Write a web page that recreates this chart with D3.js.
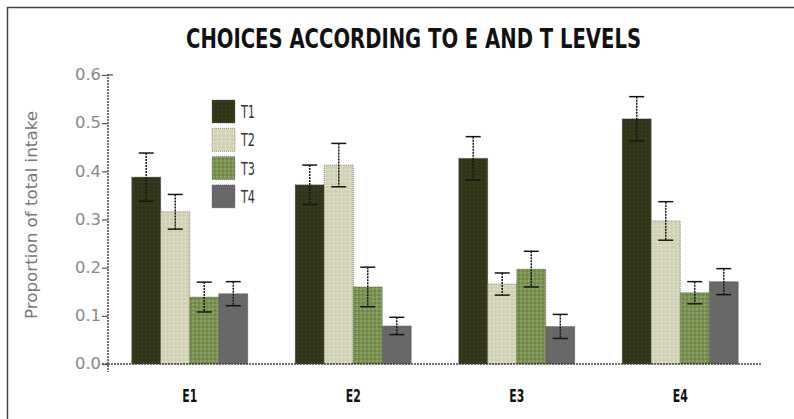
<!DOCTYPE html>
<html>
<head>
<meta charset="utf-8">
<script src="https://cdn.jsdelivr.net/npm/d3@7"></script>
<style>
  html, body { margin: 0; padding: 0; background: #fff; }
  svg { display: block; }
</style>
</head>
<body>
<svg id="chart" width="794" height="419"></svg>
<script>
// Categories, series and values
const groups = ["E1", "E2", "E3", "E4"];
const series = ["T1", "T2", "T3", "T4"];
const T1 = [0.388, 0.372, 0.427, 0.509];
const T2 = [0.316, 0.413, 0.166, 0.297];
const T3 = [0.139, 0.160, 0.197, 0.148];
const T4 = [0.146, 0.079, 0.078, 0.171];
const T1err = [0.050, 0.041, 0.045, 0.046];
const T2err = [0.036, 0.045, 0.023, 0.040];
const T3err = [0.031, 0.041, 0.037, 0.023];
const T4err = [0.025, 0.018, 0.025, 0.027];
const yTicks = [0.0, 0.1, 0.2, 0.3, 0.4, 0.5, 0.6];

const values = [T1, T2, T3, T4];
const errors = [T1err, T2err, T3err, T4err];
const rows = [];
groups.forEach((g, gi) => series.forEach((s, si) => {
  rows.push({ group: g, series: s, value: values[si][gi], err: errors[si][gi] });
}));

const svg = d3.select("#chart");
const defs = svg.append("defs");

// Fill patterns for the four series
function dotPattern(id, bg, dot, size, r) {
  const p = defs.append("pattern").attr("id", id)
    .attr("patternUnits", "userSpaceOnUse").attr("width", size).attr("height", size);
  p.append("rect").attr("width", size).attr("height", size).attr("fill", bg);
  p.append("rect").attr("x", 1).attr("y", 1).attr("width", r).attr("height", r).attr("fill", dot);
}
dotPattern("pT1", "#35341b", "#1f5a22", 4, 1.2);
dotPattern("pT2", "#d2d0b6", "#e8f8d2", 4, 1.3);
{
  const p = defs.append("pattern").attr("id", "pT3")
    .attr("patternUnits", "userSpaceOnUse").attr("width", 4).attr("height", 4);
  p.append("rect").attr("width", 4).attr("height", 4).attr("fill", "#7b9352");
  p.append("rect").attr("x", 0).attr("y", 0).attr("width", 2).attr("height", 2).attr("fill", "#8aa062");
  p.append("rect").attr("x", 2).attr("y", 2).attr("width", 2).attr("height", 2).attr("fill", "#6d8548");
}
dotPattern("pT4", "#686868", "#666666", 4, 1);

const fills = d3.scaleOrdinal().domain(series).range(["url(#pT1)", "url(#pT2)", "url(#pT3)", "url(#pT4)"]);

// Frame lines
svg.append("line").attr("x1", 7).attr("x2", 794).attr("y1", 7.5).attr("y2", 7.5)
  .attr("stroke", "#444").attr("stroke-width", 1.5);
svg.append("line").attr("x1", 7.5).attr("x2", 7.5).attr("y1", 7).attr("y2", 419)
  .attr("stroke", "#444").attr("stroke-width", 1.5);

// Title
svg.append("text")
  .attr("x", 413.5).attr("y", 48)
  .attr("text-anchor", "middle")
  .attr("font-family", "'DejaVu Sans Condensed', 'Liberation Sans Narrow', sans-serif")
  .attr("font-weight", "bold")
  .attr("font-size", 26)
  .attr("textLength", 455).attr("lengthAdjust", "spacingAndGlyphs")
  .attr("fill", "#111")
  .text("CHOICES ACCORDING TO E AND T LEVELS");

// Scales
const x0 = d3.scaleBand().domain(groups).range([108, 762]).paddingInner(0.29).paddingOuter(0.145);
const x1 = d3.scaleBand().domain(series).range([0, x0.bandwidth()]).padding(0);
const y = d3.scaleLinear().domain([0, 0.6]).range([364, 75]);

// Bars
const bars = svg.append("g");
bars.selectAll("rect").data(rows).join("rect")
  .attr("x", d => x0(d.group) + x1(d.series))
  .attr("y", d => y(d.value))
  .attr("width", x1.bandwidth())
  .attr("height", d => y(0) - y(d.value))
  .attr("fill", d => fills(d.series))
  .attr("stroke", "#444").attr("stroke-width", 0.6).attr("stroke-dasharray", "1,1");

// Error bars
const eb = svg.append("g").attr("stroke", "#151515").attr("stroke-width", 1.5);
rows.forEach(d => {
  const cx = x0(d.group) + x1(d.series) + x1.bandwidth() / 2;
  const top = y(d.value + d.err), bot = y(d.value - d.err);
  eb.append("line").attr("x1", cx).attr("x2", cx).attr("y1", top).attr("y2", bot)
    .attr("stroke-dasharray", "2,1");
  eb.append("line").attr("x1", cx - 7.5).attr("x2", cx + 7.5).attr("y1", top).attr("y2", top);
  eb.append("line").attr("x1", cx - 7.5).attr("x2", cx + 7.5).attr("y1", bot).attr("y2", bot);
});

// Y axis
const yAxis = svg.append("g").attr("transform", "translate(108,0)")
  .call(d3.axisLeft(y).tickValues(yTicks).tickFormat(d3.format(".1f")).tickSize(6).tickSizeOuter(0));
yAxis.select(".domain").remove();
yAxis.selectAll(".tick line").attr("stroke", "#555").attr("stroke-width", 1.2);
yAxis.selectAll(".tick text")
  .attr("x", -7)
  .attr("font-family", "'DejaVu Sans Condensed', 'Liberation Sans Narrow', sans-serif")
  .attr("font-size", 15).attr("fill", "#888")
  .attr("textLength", 26).attr("lengthAdjust", "spacingAndGlyphs");
svg.append("line").attr("x1", 108).attr("x2", 108).attr("y1", 74).attr("y2", 372)
  .attr("stroke", "#444").attr("stroke-width", 1.5).attr("stroke-dasharray", "2,1");
svg.append("line").attr("x1", 108).attr("x2", 113).attr("y1", 75).attr("y2", 75)
  .attr("stroke", "#555").attr("stroke-width", 1.2);

// X axis
svg.append("line").attr("x1", 102).attr("x2", 762).attr("y1", 364).attr("y2", 364)
  .attr("stroke", "#444").attr("stroke-width", 1.5).attr("stroke-dasharray", "2,1");
const xAxis = svg.append("g").attr("transform", "translate(0,364)")
  .call(d3.axisBottom(x0).tickSize(0));
xAxis.select(".domain").remove();
xAxis.selectAll(".tick text")
  .attr("y", 26)
  .attr("font-family", "'DejaVu Sans Condensed', 'Liberation Sans Narrow', sans-serif")
  .attr("font-weight", "bold").attr("font-size", 17).attr("fill", "#111")
  .attr("textLength", 15).attr("lengthAdjust", "spacingAndGlyphs");

// Y axis title
svg.append("text")
  .attr("transform", "translate(37,215) rotate(-90)")
  .attr("text-anchor", "middle")
  .attr("font-family", "'DejaVu Sans Condensed', 'Liberation Sans Narrow', sans-serif")
  .attr("font-size", 16).attr("fill", "#777")
  .attr("textLength", 208).attr("lengthAdjust", "spacingAndGlyphs")
  .text("Proportion of total intake");

// Legend
const legend = svg.append("g");
series.forEach((s, i) => {
  const gy = 100 + i * 28.3;
  legend.append("rect").attr("x", 212).attr("y", gy).attr("width", 23).attr("height", 23)
    .attr("fill", fills(s)).attr("stroke", "#555").attr("stroke-width", 0.6).attr("stroke-dasharray", "1,1");
  legend.append("text").attr("x", 241).attr("y", gy + 18)
    .attr("font-family", "'DejaVu Sans Condensed', 'Liberation Sans Narrow', sans-serif")
    .attr("font-size", 18).attr("fill", "#333")
    .attr("textLength", 14).attr("lengthAdjust", "spacingAndGlyphs")
    .text(s);
});
</script>
</body>
</html>
